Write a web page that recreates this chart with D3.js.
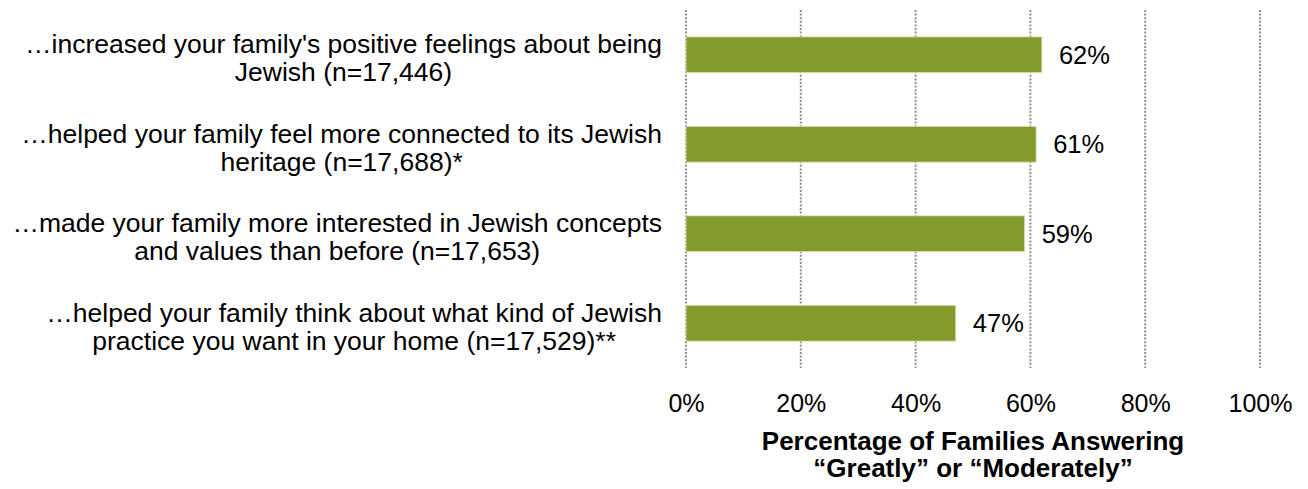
<!DOCTYPE html>
<html>
<head>
<meta charset="utf-8">
<script src="https://cdn.jsdelivr.net/npm/d3@7"></script>
<style>
  html, body { margin: 0; padding: 0; background: #ffffff; }
  svg { display: block; }
  text { font-family: "Liberation Sans", Arial, sans-serif; fill: #000; }
</style>
</head>
<body>
<svg id="chart" width="1308" height="489"></svg>
<script>
// Survey items, each split into its two display lines
const categories = [
  ["\u2026increased your family's positive feelings about being", "Jewish (n=17,446)"],
  ["\u2026helped your family feel more connected to its Jewish", "heritage (n=17,688)*"],
  ["\u2026made your family more interested in Jewish concepts", "and values than before (n=17,653)"],
  ["\u2026helped your family think about what kind of Jewish", "practice you want in your home (n=17,529)**"]
];
// Percent answering "Greatly" or "Moderately"
const values = [62, 61, 59, 47];
const ticks = [0, 20, 40, 60, 80, 100];
const axisTitle = ["Percentage of Families Answering", "\u201cGreatly\u201d or \u201cModerately\u201d"];

const svg = d3.select("#chart");
const keys = categories.map((c, i) => i);

const x = d3.scaleLinear().domain([0, 100]).range([686, 1260]);
const y = d3.scaleBand().domain(keys).range([10, 368]).paddingInner(0.6).paddingOuter(0.3);

// Dotted vertical gridlines
svg.append("g")
  .selectAll("line")
  .data(ticks)
  .join("line")
  .attr("x1", d => x(d)).attr("x2", d => x(d))
  .attr("y1", 10).attr("y2", 368)
  .attr("stroke", "#8e8e8e")
  .attr("stroke-width", 2)
  .attr("stroke-dasharray", "2,1.6");

// Bars
svg.append("g")
  .selectAll("rect")
  .data(values)
  .join("rect")
  .attr("x", x(0))
  .attr("y", (d, i) => y(i))
  .attr("width", d => x(d) - x(0))
  .attr("height", y.bandwidth())
  .attr("fill", "#839a2d")
  .attr("stroke", "#dde5bf")
  .attr("stroke-width", 0.8);

// Value labels
svg.append("g")
  .selectAll("text")
  .data(values)
  .join("text")
  .attr("x", d => x(d) + 17)
  .attr("y", (d, i) => y(i) + y.bandwidth() / 2)
  .attr("dy", "0.35em")
  .style("font-size", "25.5px")
  .text(d => d + "%");

// Bottom axis tick labels
const axis = svg.append("g")
  .attr("transform", "translate(0,368)")
  .call(d3.axisBottom(x).tickValues(ticks).tickSize(0).tickFormat(d => d + "%"));
axis.select(".domain").remove();
axis.selectAll("text")
  .attr("y", 35)
  .attr("dy", "0.35em")
  .style("font-size", "25px")
  .style("font-family", "\"Liberation Sans\", Arial, sans-serif")
  .attr("fill", "#000");

// Axis title
svg.append("g")
  .selectAll("text")
  .data(axisTitle)
  .join("text")
  .attr("x", (x(0) + x(100)) / 2)
  .attr("y", (d, i) => 441 + i * 27)
  .attr("dy", "0.35em")
  .attr("text-anchor", "middle")
  .style("font-size", "26px")
  .style("font-weight", "bold")
  .text(d => d);

// Category labels: each two-line block centred on itself, right edge beside the axis
const labelRight = 662;
const lineGap = 28;
const catG = svg.append("g");
categories.forEach((lines, i) => {
  const cy = y(i) + y.bandwidth() / 2 + 3;
  const g = catG.append("g");
  const texts = g.selectAll("text")
    .data(lines)
    .join("text")
    .attr("y", (d, j) => cy + (j - (lines.length - 1) / 2) * lineGap)
    .attr("dy", "0.35em")
    .attr("text-anchor", "middle")
    .style("font-size", "26.5px")
    .text(d => d);
  const maxW = d3.max(texts.nodes(), n => n.getComputedTextLength());
  texts.attr("x", labelRight - maxW / 2);
});
</script>
</body>
</html>
